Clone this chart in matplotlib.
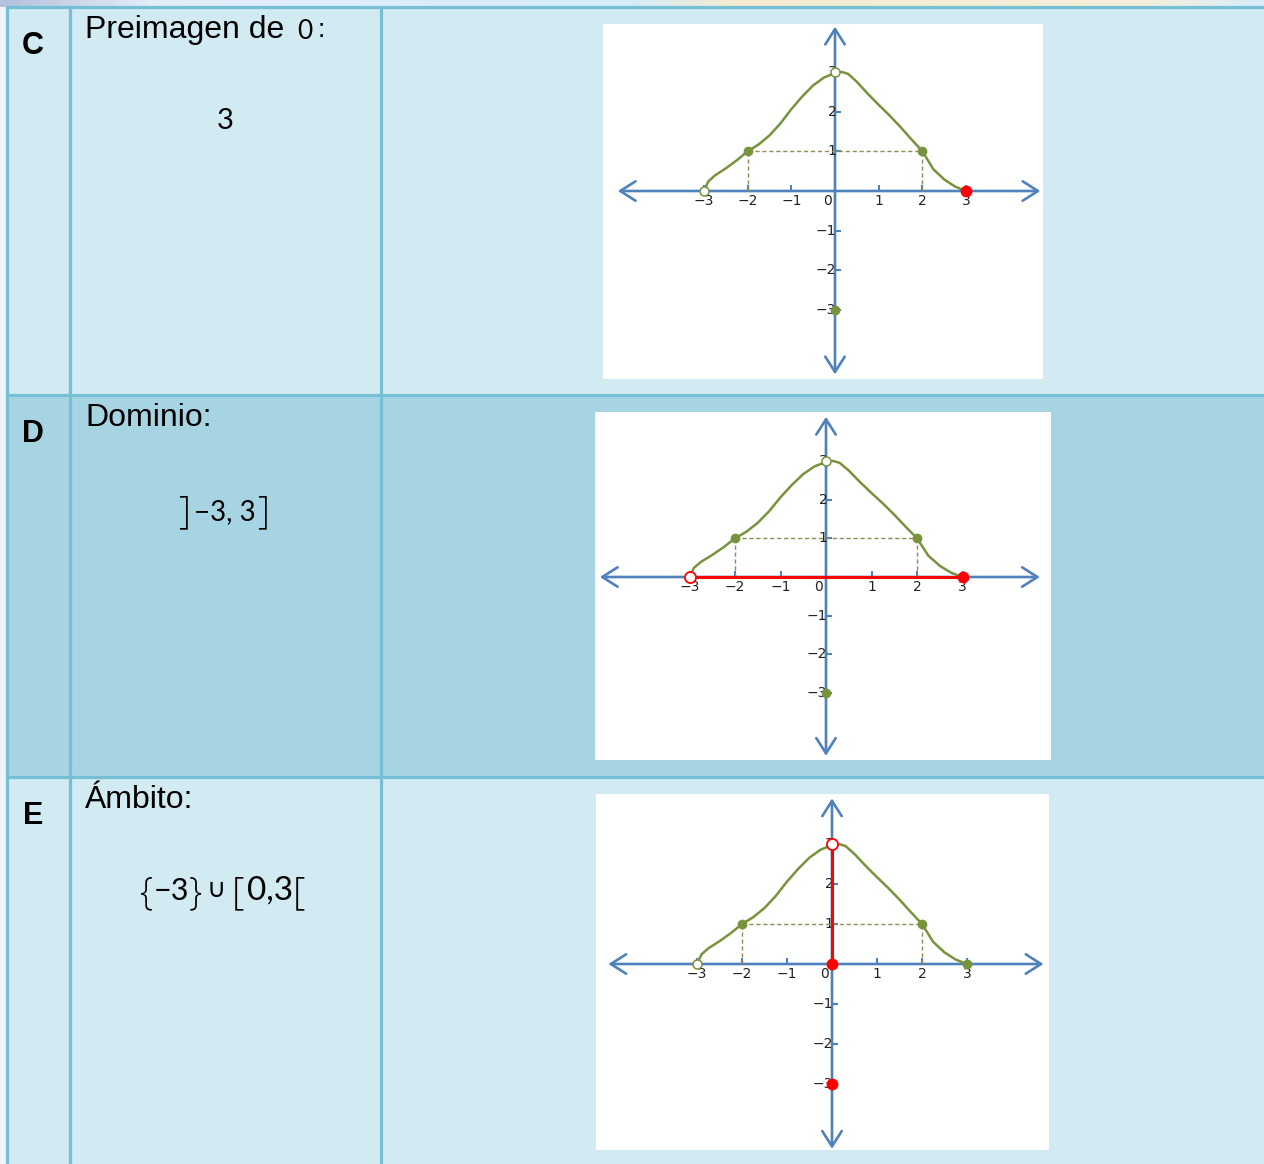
import matplotlib
matplotlib.use('Agg')
import matplotlib.pyplot as plt
from matplotlib.patches import Rectangle
from matplotlib.colors import LinearSegmentedColormap
import numpy as np

plt.rcParams['font.family'] = ['Liberation Sans', 'DejaVu Sans']

W, H = 1264, 1164

# ---------------- data ----------------
row_letters = ['C', 'D', 'E']
row_titles = ['Preimagen de', 'Dominio:', 'Ámbito:']
answer_c = '3'

curve_x = [-3.0, -2.9, -2.75, -2.5, -2.25, -2.0, -1.75, -1.5, -1.25, -1.0, -0.75,
           -0.5, -0.25, 0.0, 0.15, 0.3, 0.5, 0.75, 1.0, 1.25, 1.5, 1.75, 2.0,
           2.25, 2.5, 2.75, 3.0]
curve_y = [0.0, 0.24, 0.39, 0.57, 0.77, 1.0, 1.17, 1.4, 1.7, 2.06, 2.38, 2.66,
           2.86, 2.97, 3.0, 2.95, 2.75, 2.45, 2.17, 1.9, 1.61, 1.3, 1.0, 0.55,
           0.29, 0.11, 0.0]

tick_vals = [-3, -2, -1, 1, 2, 3]
x_label_vals = [-3, -2, -1, 1, 2, 3]
x_labels = ['−3', '−2', '−1', '1', '2', '3']
y_label_vals = [-3, -2, -1, 1, 2, 3]
y_labels = ['−3', '−2', '−1', '1', '2', '3']

dash_x = [-2, 2]
dash_y = 1

# per-graph marks
green_filled = [
    ([-2, 2, 0], [1, 1, -3]),
    ([-2, 2, 0], [1, 1, -3]),
    ([-2, 2, 3], [1, 1, 0]),
]
green_open = [
    ([-3, 0], [0, 3]),
    ([0], [3]),
    ([-3], [0]),
]
red_segments = [
    None,
    ([-3, 3], [0, 0]),
    ([0, 0], [0, 3]),
]
red_filled = [
    ([3], [0]),
    ([3], [0]),
    ([0, 0], [0, -3]),
]
red_open = [
    None,
    ([-3], [0]),
    ([0], [3]),
]

# ---------------- layout / style ----------------
BLUE = '#4f81bd'
GREEN = '#77933c'
RED = '#ff0000'
DASH = '#948a54'
BORDER = '#76c0d5'
LIGHT = '#d2eaf2'
DARK = '#a6d4e3'
MF = ['Lato', 'DejaVu Sans']
BF = ['Open Sans', 'Liberation Sans', 'DejaVu Sans']

fig = plt.figure(figsize=(W / 100, H / 100), dpi=100)
fig.patch.set_facecolor('#eef4fa')
bg = fig.add_axes([0, 0, 1, 1])
bg.set_xlim(0, W)
bg.set_ylim(H, 0)
bg.axis('off')

# top decorative gradient strip
cmap = LinearSegmentedColormap.from_list(
    'strip', [(0, '#b4c0dc'), (0.12, '#e4eef8'), (0.5, '#d6ecf8'),
              (0.58, '#f4ead2'), (0.9, '#f6f0da'), (1, '#d8ecf8')])
bg.imshow(np.linspace(0, 1, 256)[None, :], cmap=cmap, aspect='auto',
          extent=(0, W, 7, 0), zorder=0)

rows = [(7, 395), (395, 777), (777, H)]
row_colors = [LIGHT, DARK, LIGHT]
for (top, bot), col in zip(rows, row_colors):
    bg.add_patch(Rectangle((7, top), W - 7, bot - top, facecolor=col,
                           edgecolor='none', zorder=1))
for y in [7, 395, 777]:
    bg.plot([6, W], [y, y], color=BORDER, lw=2.3, zorder=2, solid_capstyle='butt')
for x in [7, 70, 381]:
    bg.plot([x, x], [6, H], color=BORDER, lw=2.3, zorder=2, solid_capstyle='butt')

# letters and titles
for (top, bot), letter, title in zip(rows, row_letters, row_titles):
    bg.text(33, top + 47, letter, fontsize=22, fontweight='bold', ha='center',
            va='baseline', zorder=3)
    bg.text(85, top + 31, title, fontsize=23, ha='left', va='baseline', zorder=3)

bg.text(297, 39, '0', fontsize=19, family=MF, ha='left', va='baseline', zorder=3)
bg.text(318, 37, ':', fontsize=19, ha='left', va='baseline', zorder=3)
bg.text(225, 129, answer_c, fontsize=21, family=MF, ha='center', va='baseline',
        zorder=3)

# D expression  ]−3, 3]
bg.text(178, 523, ']', fontsize=27, family=BF, fontweight='light', ha='left',
        va='baseline', zorder=3)
bg.text(194, 520, '−3, 3', fontsize=20, family=MF, ha='left', va='baseline', zorder=3)
bg.text(257, 523, ']', fontsize=27, family=BF, fontweight='light', ha='left',
        va='baseline', zorder=3)

# E expression  {−3} ∪ [0,3[
bg.text(140, 904, '{', fontsize=27, family=BF, fontweight='light', ha='left',
        va='baseline', zorder=3)
bg.text(154, 900, '−3', fontsize=22, family=MF, ha='left', va='baseline', zorder=3)
bg.text(189, 904, '}', fontsize=27, family=BF, fontweight='light', ha='left',
        va='baseline', zorder=3)
bg.text(207, 897, '∪', fontsize=19, family=['DejaVu Sans'], ha='left',
        va='baseline', zorder=3)
bg.text(232, 904, '[', fontsize=28, family=BF, fontweight='light', ha='left',
        va='baseline', zorder=3)
bg.text(247, 900, '0,3', fontsize=24, family=MF, ha='left', va='baseline', zorder=3)
bg.text(293, 904, '[', fontsize=28, family=BF, fontweight='light', ha='left',
        va='baseline', zorder=3)

graph_boxes = [(603, 24, 1043, 379), (595, 412, 1051, 760), (596, 794, 1049, 1150)]
graph_origins = [(835, 191), (826, 577), (832, 964)]
graph_scales = [(43.7, 39.7), (45.5, 38.7), (45.0, 40.0)]
x_arrow = (-4.97, 4.70)
y_arrow = (-4.62, 4.14)


def draw_graph(i):
    x0, y0, x1, y1 = graph_boxes[i]
    ox, oy = graph_origins[i]
    sx, sy = graph_scales[i]
    ax = fig.add_axes([x0 / W, 1 - y1 / H, (x1 - x0) / W, (y1 - y0) / H])
    ax.set_xlim((x0 - ox) / sx, (x1 - ox) / sx)
    ax.set_ylim((oy - y1) / sy, (oy - y0) / sy)
    ax.set_facecolor('white')
    for s in ax.spines.values():
        s.set_visible(False)
    ax.set_xticks([])
    ax.set_yticks([])

    ap = dict(arrowstyle='<->,head_length=0.55,head_width=0.35', lw=1.9,
              color=BLUE, shrinkA=0, shrinkB=0, mutation_scale=20)
    ax.annotate('', xy=(x_arrow[1], 0), xytext=(x_arrow[0], 0), arrowprops=ap,
                zorder=2)
    ax.annotate('', xy=(0, y_arrow[1]), xytext=(0, y_arrow[0]), arrowprops=ap,
                zorder=2)
    ax.vlines(tick_vals, 0, 0.15, color=BLUE, lw=1.5, zorder=2)
    ax.hlines(tick_vals, 0, 0.14, color=BLUE, lw=1.5, zorder=2)

    for v, t in zip(x_label_vals, x_labels):
        ax.text(v, -0.25, t, fontsize=10, family=['DejaVu Sans'], color='#222222',
                ha='center', va='center', zorder=3)
    ax.text(-0.17, -0.25, '0', fontsize=10, family=['DejaVu Sans'], color='#222222',
            ha='center', va='center', zorder=3)
    for v, t in zip(y_label_vals, y_labels):
        ax.text(0.03, v, t, fontsize=10, family=['DejaVu Sans'], color='#222222',
                ha='right', va='center', zorder=3)

    # dashed guides
    ax.plot([dash_x[0], dash_x[1]], [dash_y, dash_y], color=DASH, lw=1,
            ls=(0, (3, 2)), zorder=3)
    for dx in dash_x:
        ax.plot([dx, dx], [0, dash_y], color=DASH, lw=1, ls=(0, (3, 2)), zorder=3)

    ax.plot(curve_x, curve_y, color=GREEN, lw=1.8, solid_joinstyle='round', zorder=4)

    if red_segments[i] is not None:
        ax.plot(*red_segments[i], color=RED, lw=2.2, zorder=5)

    gx, gy = green_filled[i]
    ax.plot(gx, gy, 'o', color=GREEN, ms=6, zorder=6)
    gx, gy = green_open[i]
    ax.plot(gx, gy, 'o', mfc='white', mec=GREEN, mew=1.1, ms=6.5, zorder=6)
    rx, ry = red_filled[i]
    ax.plot(rx, ry, 'o', color=RED, ms=7.5, zorder=7)
    if red_open[i] is not None:
        rx, ry = red_open[i]
        ax.plot(rx, ry, 'o', mfc='white', mec=RED, mew=1.3, ms=8, zorder=7)


for i in range(3):
    draw_graph(i)

fig.savefig('out.png', dpi=100, facecolor=fig.get_facecolor())
